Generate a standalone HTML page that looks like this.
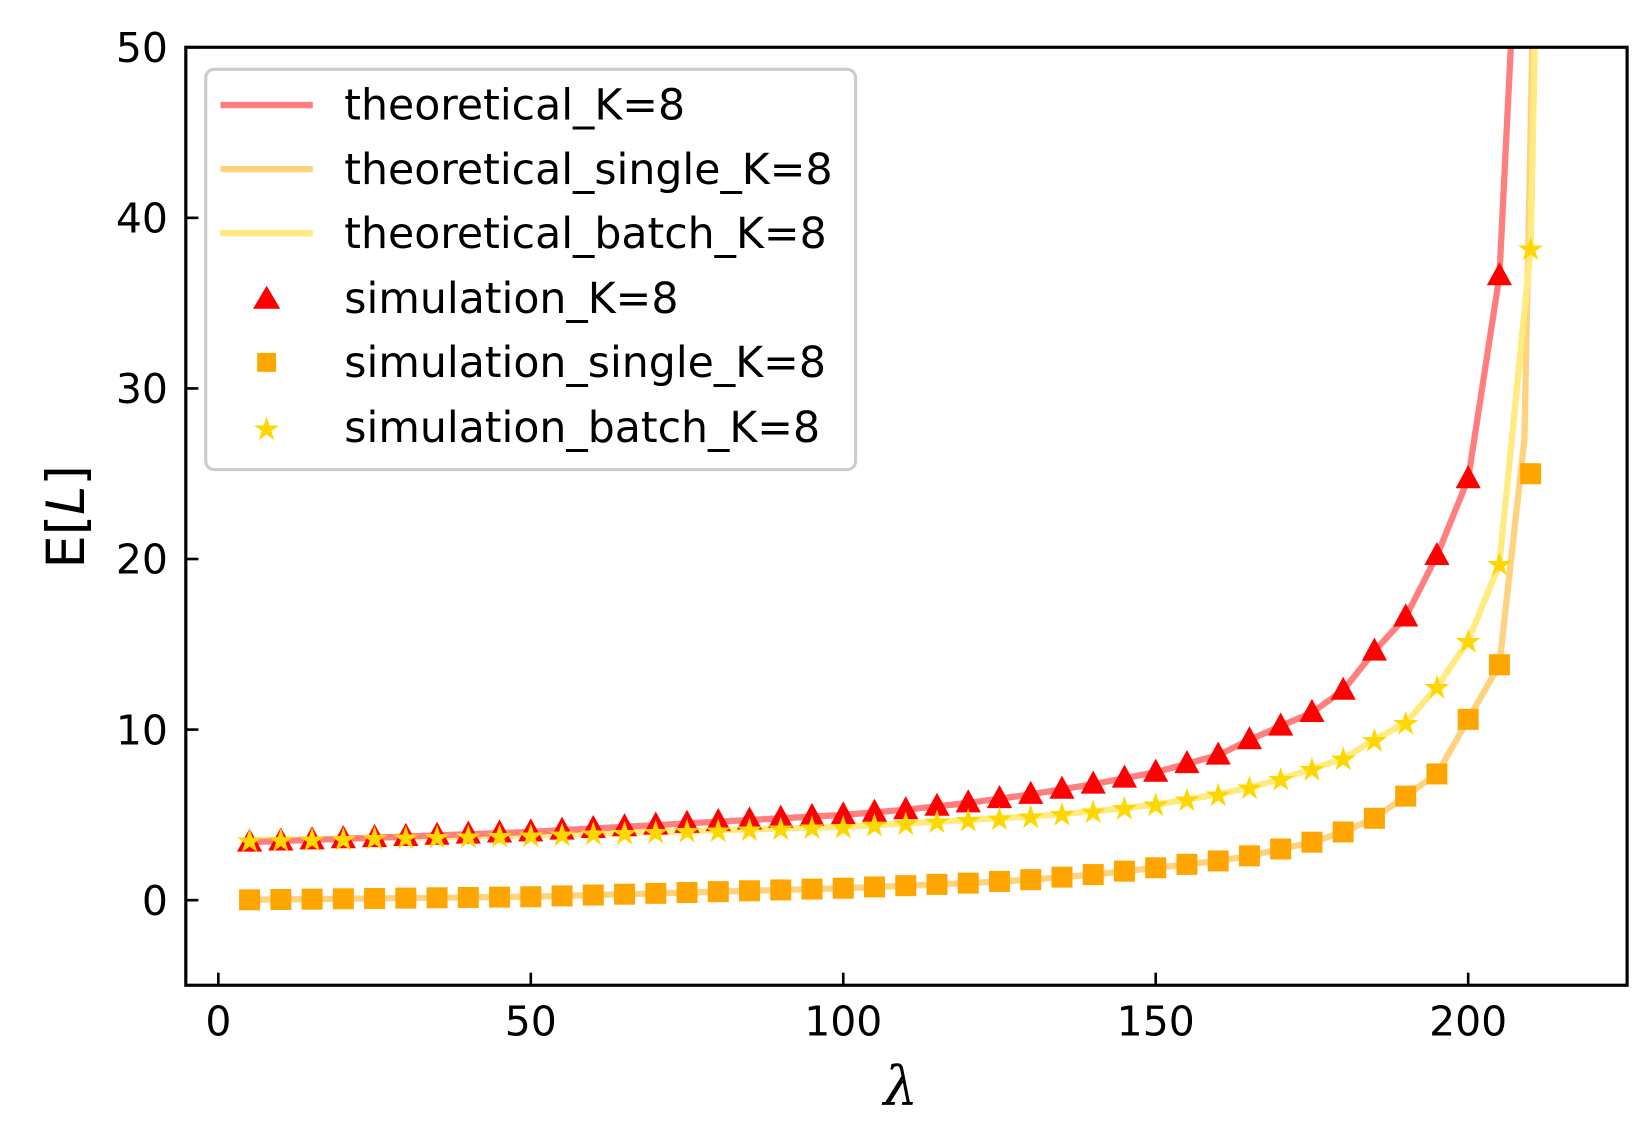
<!DOCTYPE html>
<html><head><meta charset="utf-8"><style>
html,body{margin:0;padding:0;background:#fff;}
svg{display:block;font-family:"DejaVu Sans","Liberation Sans",sans-serif;}
</style></head><body>
<svg id="s" width="1646" height="1126" viewBox="0 0 1568 1072" preserveAspectRatio="none" xmlns="http://www.w3.org/2000/svg">
<defs><clipPath id="c"><rect x="177" y="45" width="1373" height="893"/></clipPath></defs>
<g id="lines" clip-path="url(#c)"></g>
<g id="marks" clip-path="url(#c)"></g>
<rect x="177" y="45" width="1373" height="893" fill="none" stroke="#000" stroke-width="3"/>
<g id="ticks" stroke="#000" stroke-width="2.5"></g>
<g id="tl" font-size="39" fill="#000"></g>
<text x="858" y="1052" font-size="52" font-style="italic" text-anchor="middle" font-family="DejaVu Serif,Liberation Serif,serif">λ</text>
<text transform="translate(80,492) rotate(-90)" font-size="50" text-anchor="middle">E[<tspan font-style="italic">L</tspan>]</text>
<rect x="196" y="66" width="619" height="381" rx="8" fill="#fff" fill-opacity="0.85" stroke="#ccc" stroke-width="3"/>
<g font-size="40.6" fill="#000">
<line x1="210" y1="100" x2="298" y2="100" stroke="#ff7f7f" stroke-width="6"/>
<text x="328" y="114">theoretical_K=8</text>
<line x1="210" y1="161" x2="298" y2="161" stroke="#ffd27f" stroke-width="6"/>
<text x="328" y="175">theoretical_single_K=8</text>
<line x1="210" y1="222" x2="298" y2="222" stroke="#ffeb7f" stroke-width="6"/>
<text x="328" y="236">theoretical_batch_K=8</text>
<polygon points="254,272 267,294 241,294" fill="red"/>
<text x="328" y="298">simulation_K=8</text>
<rect x="245" y="336" width="18" height="18" fill="orange"/>
<text x="328" y="359">simulation_single_K=8</text>
<text x="254" y="419" font-size="31" fill="gold" text-anchor="middle">★</text>
<text x="328" y="421">simulation_batch_K=8</text>
</g>
</svg>
<script>
const X=l=>208+l*5.953, Y=v=>857-v*16.24;
function interp(a,l){for(let i=0;i<a.length-1;i++){if(l<=a[i+1][0]){const[t0,v0]=a[i],[t1,v1]=a[i+1];return v0+(v1-v0)*(l-t0)/(t1-t0);}}return a[a.length-1][1];}
const red=[[5,3.4],[50,4.0],[100,5.0],[110,5.3],[120,5.7],[130,6.2],[140,6.8],[150,7.5],[155,8.0],[160,8.5],[165,9.4],[170,10.2],[175,11.0],[180,12.3],[185,14.6],[190,16.6],[195,20.2],[200,24.7],[205,36.6],[207.5,55]];
const org=[[5,0.02],[50,0.2],[100,0.7],[120,1.0],[130,1.2],[140,1.5],[150,1.9],[160,2.3],[165,2.6],[170,3.0],[175,3.4],[180,4.0],[185,4.8],[190,6.1],[195,7.4],[200,10.6],[205,13.8],[209,27],[210,25],[210.8,60]];
const yel=[[5,3.5],[50,3.8],[100,4.3],[120,4.7],[130,4.9],[140,5.2],[150,5.6],[155,5.9],[160,6.2],[165,6.6],[170,7.1],[175,7.7],[180,8.3],[185,9.4],[190,10.4],[195,12.5],[200,15.2],[205,19.7],[210,38.2],[211.2,60]];
const ns="http://www.w3.org/2000/svg";
function el(p,t,a,txt){const e=document.createElementNS(ns,t);for(const k in a)e.setAttribute(k,a[k]);if(txt)e.textContent=txt;document.getElementById(p).appendChild(e);}
function pl(a,c){el("lines","polyline",{points:a.filter(p=>!(p[0]==210&&p[1]==25)).map(p=>X(p[0])+","+Y(p[1])).join(" "),fill:"none",stroke:c,"stroke-width":6,"stroke-linejoin":"round"});}
pl(org,"#ffd27f");pl(yel,"#ffeb7f");pl(red,"#ff7f7f");
for(let l=5;l<=205;l+=5){const x=X(l),y=Y(interp(red,l));el("marks","polygon",{points:`${x},${y-13} ${x+12},${y+9} ${x-12},${y+9}`,fill:"red"});}
for(let l=5;l<=210;l+=5){const x=X(l),y=Y(l==210?25:interp(org,l));el("marks","rect",{x:x-10,y:y-10,width:20,height:20,fill:"orange"});}
for(let l=5;l<=210;l+=5){const x=X(l),y=Y(interp(yel,l));el("marks","text",{x:x,y:y+11,"font-size":31,fill:"gold","text-anchor":"middle"},"★");}
for(const v of [0,50,100,150,200]){const x=X(v);el("ticks","line",{x1:x,y1:938,x2:x,y2:926});el("tl","text",{x:x,y:986,"text-anchor":"middle"},String(v));}
for(const v of [0,10,20,30,40,50]){const y=Y(v);el("ticks","line",{x1:177,y1:y,x2:189,y2:y});el("tl","text",{x:160,y:y+14,"text-anchor":"end"},String(v));}
</script>
</body></html>
